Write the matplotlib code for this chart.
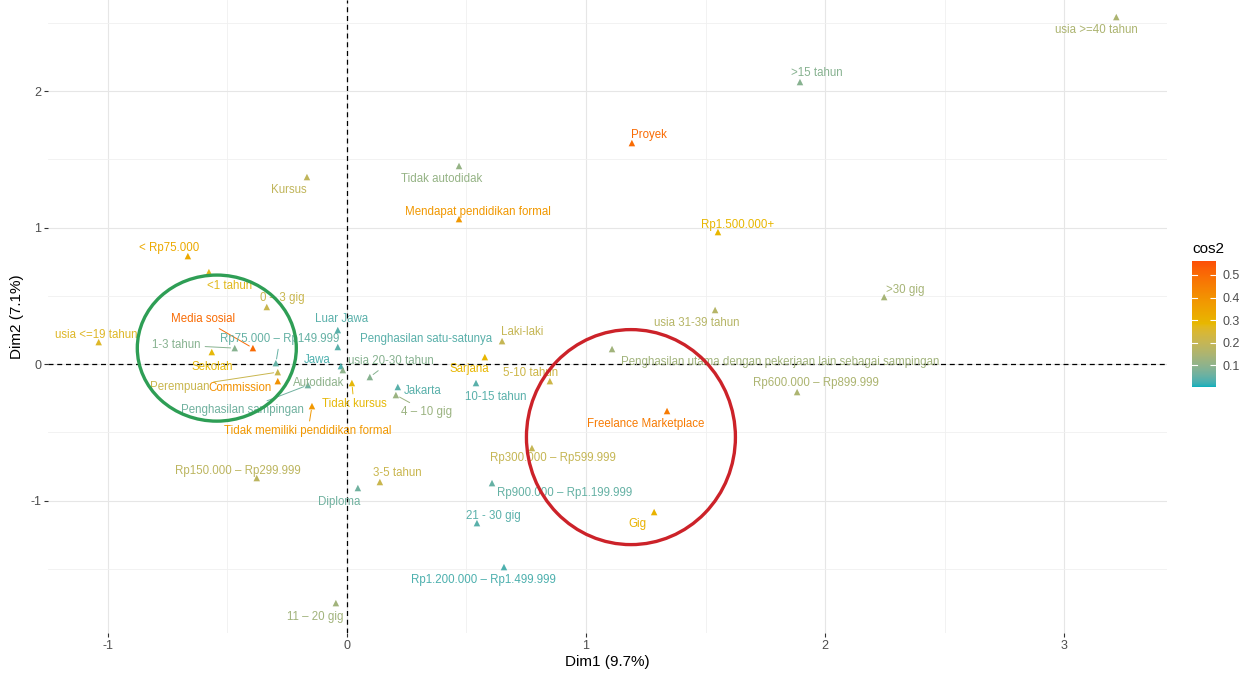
import matplotlib
matplotlib.use("Agg")
import matplotlib.pyplot as plt
from matplotlib.colors import ListedColormap, Normalize, to_rgb
from matplotlib.patches import Ellipse
import numpy as np

plt.rcParams["font.family"] = ["Liberation Sans", "DejaVu Sans"]
plt.rcParams["axes.unicode_minus"] = False

# Category coordinates on the first two MCA dimensions and their cos2
categories = [
    "usia >=40 tahun", ">15 tahun", "Proyek", "Tidak autodidak", "Kursus",
    "Mendapat pendidikan formal", "Rp1.500.000+", "< Rp75.000", "<1 tahun", "0 \u2013 3 gig",
    ">30 gig", "usia 31-39 tahun", "Luar Jawa", "Laki-laki", "usia <=19 tahun",
    "Media sosial", "1-3 tahun", "Sekolah", "Rp75.000 \u2013 Rp149.999", "Perempuan",
    "Commission", "Penghasilan sampingan", "Tidak memiliki pendidikan formal",
    "Penghasilan satu-satunya", "Jawa", "Autodidak", "Tidak kursus", "usia 20-30 tahun",
    "Jakarta", "4 \u2013 10 gig", "Sarjana", "10-15 tahun", "5-10 tahun",
    "Penghasilan utama dengan pekerjaan lain sebagai sampingan",
    "Rp600.000 \u2013 Rp899.999", "Freelance Marketplace", "Rp300.000 \u2013 Rp599.999",
    "Rp900.000 \u2013 Rp1.199.999", "21 - 30 gig", "Gig", "Rp1.200.000 \u2013 Rp1.499.999",
    "Rp150.000 \u2013 Rp299.999", "3-5 tahun", "Diploma", "11 \u2013 20 gig",
]
dim1 = [
    3.218, 1.895, 1.192, 0.469, -0.167,
    0.469, 1.552, -0.665, -0.577, -0.335,
    2.247, 1.540, -0.038, 0.649, -1.038,
    -0.393, -0.469, -0.565, -0.297, -0.289,
    -0.289, -0.163, -0.146,
    -0.038, -0.025, -0.017, 0.021, 0.096,
    0.213, 0.205, 0.577, 0.540, 0.849,
    1.109,
    1.883, 1.339, 0.774,
    0.607, 0.544, 1.285, 0.657,
    -0.377, 0.138, 0.046, -0.046,
]
dim2 = [
    2.542, 2.066, 1.619, 1.451, 1.370,
    1.062, 0.967, 0.791, 0.674, 0.418,
    0.491, 0.396, 0.249, 0.168, 0.161,
    0.117, 0.117, 0.088, 0.007, -0.059,
    -0.125, -0.154, -0.308,
    0.125, -0.015, -0.044, -0.139, -0.095,
    -0.168, -0.227, 0.051, -0.139, -0.125,
    0.110,
    -0.205, -0.344, -0.615,
    -0.872, -1.165, -1.084, -1.487,
    -0.835, -0.864, -0.908, -1.751,
]
cos2 = [
    0.15, 0.09, 0.50, 0.11, 0.19,
    0.38, 0.29, 0.33, 0.27, 0.21,
    0.14, 0.17, 0.04, 0.20, 0.26,
    0.50, 0.09, 0.28, 0.05, 0.21,
    0.40, 0.06, 0.38,
    0.04, 0.03, 0.10, 0.28, 0.09,
    0.04, 0.12, 0.29, 0.04, 0.22,
    0.13,
    0.15, 0.46, 0.20,
    0.05, 0.04, 0.30, 0.03,
    0.18, 0.21, 0.06, 0.13,
]

# Label placement (offset of label centre from its point, in pixels; +y = down)
# and whether a leader segment connects the label to its point
label_offsets = {
    "usia >=40 tahun": (-20, 13), ">15 tahun": (17, -9), "Proyek": (17, -8),
    "Tidak autodidak": (-17, 13), "Kursus": (-18, 13),
    "Mendapat pendidikan formal": (19, -7), "Rp1.500.000+": (20, -7),
    "< Rp75.000": (-19, -8), "<1 tahun": (21, 14), "0 \u2013 3 gig": (16, -9),
    ">30 gig": (21, -7), "usia 31-39 tahun": (-18, 13), "Luar Jawa": (4, -11),
    "Laki-laki": (20, -9), "usia <=19 tahun": (-2, -7),
    "Media sosial": (-50, -29), "1-3 tahun": (-58, -3), "Sekolah": (0, 15),
    "Rp75.000 \u2013 Rp149.999": (4, -24), "Perempuan": (-98, 15),
    "Commission": (-38, 7), "Penghasilan sampingan": (-65, 25),
    "Tidak memiliki pendidikan formal": (-4, 25),
    "Penghasilan satu-satunya": (88, -8), "Jawa": (-24, -6), "Autodidak": (-24, 13),
    "Tidak kursus": (2, 21), "usia 20-30 tahun": (21, -16), "Jakarta": (25, 4),
    "4 \u2013 10 gig": (31, 17), "Sarjana": (-16, 12), "10-15 tahun": (20, 14),
    "5-10 tahun": (-19, -8),
    "Penghasilan utama dengan pekerjaan lain sebagai sampingan": (168, 13),
    "Rp600.000 \u2013 Rp899.999": (19, -9), "Freelance Marketplace": (-21, 13),
    "Rp300.000 \u2013 Rp599.999": (21, 10), "Rp900.000 \u2013 Rp1.199.999": (73, 10),
    "21 - 30 gig": (16, -7), "Gig": (-17, 12), "Rp1.200.000 \u2013 Rp1.499.999": (-21, 13),
    "Rp150.000 \u2013 Rp299.999": (-19, -7), "3-5 tahun": (17, -9), "Diploma": (-19, 14),
    "11 \u2013 20 gig": (-21, 14),
}
with_segment = {
    "Media sosial", "1-3 tahun", "Rp75.000 \u2013 Rp149.999", "Perempuan",
    "Penghasilan sampingan", "Tidak memiliki pendidikan formal", "Tidak kursus",
    "usia 20-30 tahun", "4 \u2013 10 gig",
}


# Colour ramp interpolated in CIELAB space
_M = np.array([[0.4124564, 0.3575761, 0.1804375],
               [0.2126729, 0.7151522, 0.0721750],
               [0.0193339, 0.1191920, 0.9503041]])
_WHITE = np.array([0.95047, 1.0, 1.08883])


def _to_lab(rgb):
    c = np.asarray(rgb, float)
    lin = np.where(c <= 0.04045, c / 12.92, ((c + 0.055) / 1.055) ** 2.4)
    xyz = _M @ lin / _WHITE
    f = np.where(xyz > 216 / 24389, np.cbrt(xyz), (24389 / 27 * xyz + 16) / 116)
    return np.array([116 * f[1] - 16, 500 * (f[0] - f[1]), 200 * (f[1] - f[2])])


def _from_lab(lab):
    L, a, b = lab
    fy = (L + 16) / 116
    fx = fy + a / 500
    fz = fy - b / 200
    f = np.array([fx, fy, fz])
    xyz = np.where(f ** 3 > 216 / 24389, f ** 3, (116 * f - 16) / (24389 / 27)) * _WHITE
    lin = np.linalg.solve(_M, xyz)
    lin = np.clip(lin, 0, 1)
    c = np.where(lin <= 0.0031308, 12.92 * lin, 1.055 * lin ** (1 / 2.4) - 0.055)
    return np.clip(c, 0, 1)


def lab_ramp(hex_colors, n=256):
    labs = [_to_lab(to_rgb(h)) for h in hex_colors]
    pos = np.linspace(0, 1, len(labs))
    out = []
    for t in np.linspace(0, 1, n):
        i = min(np.searchsorted(pos, t, side="right") - 1, len(labs) - 2)
        u = (t - pos[i]) / (pos[i + 1] - pos[i])
        out.append(_from_lab((1 - u) * labs[i] + u * labs[i + 1]))
    return ListedColormap(out)


cmap = lab_ramp(["#00AFBB", "#E7B800", "#FC4E07"])
norm = Normalize(vmin=0.003, vmax=0.562)

W, H, DPI = 1257, 675, 100
fig = plt.figure(figsize=(W / DPI, H / DPI), dpi=DPI)
ax = fig.add_axes([48 / W, (H - 633) / H, (1167 - 48) / W, 633 / H])

ax.set_facecolor("white")
for s in ax.spines.values():
    s.set_visible(False)

ax.set_xticks([-1, 0, 1, 2, 3])
ax.set_yticks([-1, 0, 1, 2])
ax.set_xticks(np.arange(-1.5, 3.6, 0.5), minor=True)
ax.set_yticks(np.arange(-1.5, 2.6, 0.5), minor=True)
ax.set_xlim(-1.25, 3.43)
ax.set_ylim(-1.97, 2.667)
ax.grid(which="major", color="#E6E6E6", lw=0.8)
ax.grid(which="minor", color="#F0F0F0", lw=0.6)
ax.set_axisbelow(True)
ax.tick_params(which="major", length=3, width=0.8, color="#333333",
               labelcolor="#4D4D4D", labelsize=9, pad=2)
ax.tick_params(which="minor", length=0)
ax.set_xlabel("Dim1 (9.7%)", fontsize=11, color="black", labelpad=2)
ax.set_ylabel("Dim2 (7.1%)", fontsize=11, color="black", labelpad=4)

ax.axhline(0, color="black", lw=0.9, ls=(0, (4, 3)), zorder=1.5)
ax.axvline(0, color="black", lw=0.9, ls=(0, (4, 3)), zorder=1.5)

colors = cmap(norm(np.array(cos2)))
ax.scatter(dim1, dim2, c=cos2, cmap=cmap, norm=norm, marker="^", s=22,
           linewidths=0, zorder=3)

px = 0.72  # pixels -> points at 100 dpi
for name, x, y, col in zip(categories, dim1, dim2, colors):
    dx, dy = label_offsets[name]
    arrow = None
    if name in with_segment:
        arrow = dict(arrowstyle="-", color=col, lw=0.7, shrinkA=1, shrinkB=3)
    ax.annotate(name, (x, y), xytext=(dx * px, -dy * px), textcoords="offset points",
                ha="center", va="center", fontsize=8.3, color=col, zorder=4,
                arrowprops=arrow)

# Highlighted groups
ax.add_patch(Ellipse((-0.544, 0.117), 0.665, 1.07, fill=False,
                     edgecolor="#2E9E55", lw=2.4, zorder=5))
ax.add_patch(Ellipse((1.188, -0.535), 0.874, 1.575, fill=False,
                     edgecolor="#CC2229", lw=2.4, zorder=5))

# Colour bar
cax = fig.add_axes([1192 / W, (H - 387) / H, 24 / W, 126 / H])
cb = fig.colorbar(plt.cm.ScalarMappable(norm=norm, cmap=cmap), cax=cax)
cb.outline.set_visible(False)
cb.set_ticks([0.1, 0.2, 0.3, 0.4, 0.5])
cb.set_ticklabels(["0.1", "0.2", "0.3", "0.4", "0.5"])
cax.tick_params(length=4, width=0.8, color="white", direction="in",
                labelsize=9, labelcolor="#4D4D4D", pad=5)
for t in [0.1, 0.2, 0.3, 0.4, 0.5]:
    cax.plot([0, 0.22], [t, t], color="white", lw=0.8, transform=cax.get_yaxis_transform())
cax.set_title("cos2", fontsize=11, color="black", loc="left", pad=6)

fig.savefig("out.png", dpi=DPI)
